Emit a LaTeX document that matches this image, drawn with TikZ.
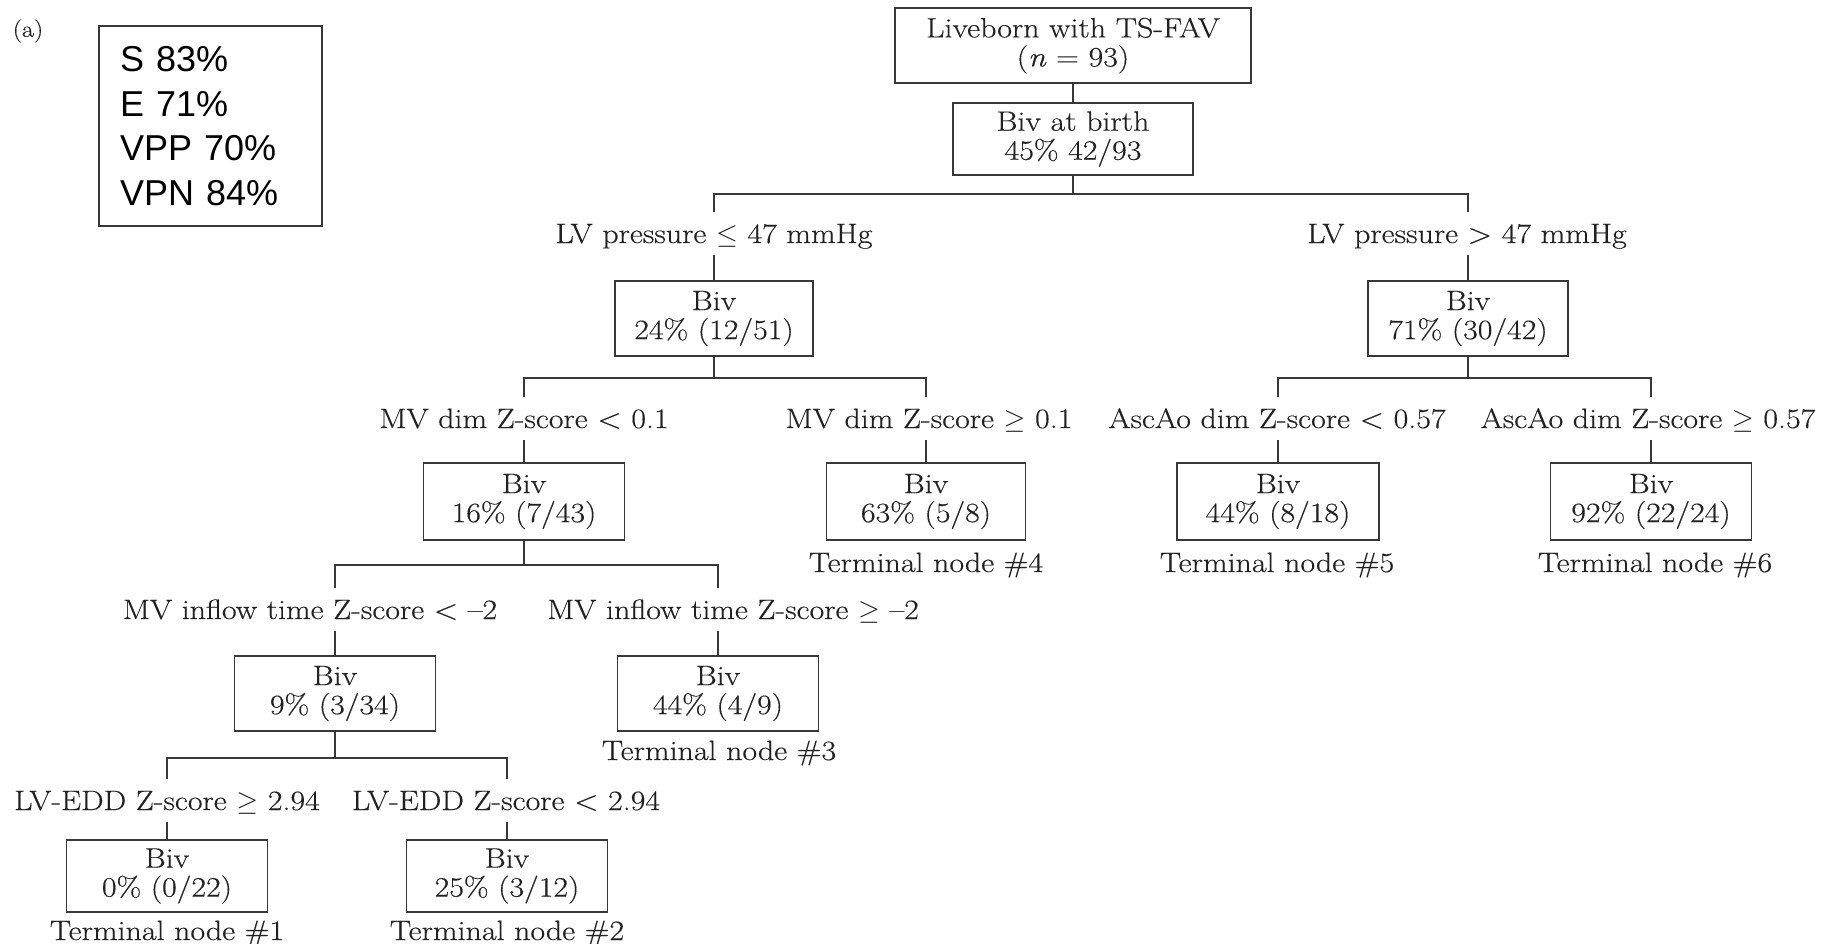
\RequirePackage{fix-cm}
\documentclass[tikz,border=0pt]{standalone}
\usepackage{fontspec}
\setmainfont{Latin Modern Roman}[FakeStretch=1.14, FakeBold=0.35]
\newfontfamily\statfont{Liberation Sans}
\definecolor{ink}{gray}{0.13}
\definecolor{rule}{gray}{0.22}
\begin{document}
\begin{tikzpicture}[x=1pt,y=-1pt,
  serif/.style={font=\fontsize{28}{29}\selectfont, text=ink},
  box/.style={serif, draw=rule, line width=1.5pt, align=center, inner sep=0pt,
    minimum width=201pt, minimum height=75pt},
  cond/.style={serif, anchor=base, inner xsep=2pt, inner ysep=9pt,
    text height=22pt, text depth=3pt},
  term/.style={serif, anchor=base, inner sep=2pt},
  link/.style={draw=rule, line width=1.5pt},
]
\useasboundingbox (0,0) rectangle (1829,943);

% panel tag and summary statistics
\node[font=\fontsize{23}{24}\selectfont, text=ink] (tag) at (28,31) {(a)};
\node[draw=rule, line width=1.5pt, minimum width=223pt, minimum height=200pt,
  inner xsep=21pt, text width=181pt, align=left, text=black,
  font=\statfont\fontsize{36}{44.5}\selectfont] (stats) at (210.5,126)
  {S 83\%\\E 71\%\\VPP 70\%\\VPN 84\%};

% root of the tree
\node[box, minimum width=356pt] (root) at (1073,45.5) {Liveborn with TS-FAV\\(\textit{n} = 93)};
\node[box, minimum width=240pt, minimum height=72pt] (birth) at (1073,139) {Biv at birth\\45\% 42/93};

% first split: LV pressure
\node[cond] (c1l) at (714,243) {LV pressure $\leq$ 47 mmHg};
\node[cond] (c1r) at (1467,243) {LV pressure > 47 mmHg};
\node[box, minimum width=198pt] (n24) at (714,318.5) {Biv\\24\% (12/51)};
\node[box, minimum width=200pt] (n71) at (1468,318.5) {Biv\\71\% (30/42)};

% second split: MV dimension / ascending aorta dimension
\node[cond] (c2a) at (524,428) {MV dim Z-score < 0.1};
\node[cond] (c2b) at (929,428) {MV dim Z-score $\geq$ 0.1};
\node[cond] (c2c) at (1277,428) {AscAo dim Z-score < 0.57};
\node[cond] (c2d) at (1648,428) {AscAo dim Z-score $\geq$ 0.57};
\node[box, minimum height=77pt] (n16) at (524,501.5) {Biv\\16\% (7/43)};
\node[box, minimum height=77pt, minimum width=199pt] (n63) at (926,501.5) {Biv\\63\% (5/8)};
\node[box, minimum height=77pt, minimum width=202pt] (n44a) at (1278,501.5) {Biv\\44\% (8/18)};
\node[box, minimum height=77pt] (n92) at (1651,501.5) {Biv\\92\% (22/24)};
\node[term] (t4) at (926,572) {Terminal node \#4};
\node[term] (t5) at (1277,572) {Terminal node \#5};
\node[term] (t6) at (1655,572) {Terminal node \#6};

% third split: MV inflow time
\node[cond] (c3a) at (310,619) {MV inflow time Z-score < --2};
\node[cond] (c3b) at (733,619) {MV inflow time Z-score $\geq$ --2};
\node[box] (n9) at (335,693.5) {Biv\\9\% (3/34)};
\node[box] (n44b) at (718,693.5) {Biv\\44\% (4/9)};
\node[term] (t3) at (719,760) {Terminal node \#3};

% fourth split: LV end-diastolic dimension
\node[cond] (c4a) at (167,810) {LV-EDD Z-score $\geq$ 2.94};
\node[cond] (c4b) at (506,810) {LV-EDD Z-score < 2.94};
\node[box, minimum height=72pt] (n0) at (167,876) {Biv\\0\% (0/22)};
\node[box, minimum height=72pt] (n25) at (507,876) {Biv\\25\% (3/12)};
\node[term] (t1) at (167,940) {Terminal node \#1};
\node[term] (t2) at (507,940) {Terminal node \#2};

% heights of the horizontal branch bars
\coordinate (b1) at (1073,194);
\coordinate (b2) at (714,378);
\coordinate (b3) at (524,565);
\coordinate (b4) at (335,758);
\coordinate (b2r) at (1468,378);

% connectors
\draw[link] (root.south) -- (birth.north);

\draw[link] (birth.south) -- (birth.south |- b1);
\draw[link] (n24.north |- c1l.north) -- (n24.north |- b1) -- (n71.north |- b1) -- (n71.north |- c1r.north);
\draw[link] (n24.north |- c1l.south) -- (n24.north);
\draw[link] (n71.north |- c1r.south) -- (n71.north);

\draw[link] (n24.south) -- (n24.south |- b2);
\draw[link] (n16.north |- c2a.north) -- (n16.north |- b2) -- (n63.north |- b2) -- (n63.north |- c2b.north);
\draw[link] (n16.north |- c2a.south) -- (n16.north);
\draw[link] (n63.north |- c2b.south) -- (n63.north);

\draw[link] (n71.south) -- (n71.south |- b2r);
\draw[link] (n44a.north |- c2c.north) -- (n44a.north |- b2r) -- (n92.north |- b2r) -- (n92.north |- c2d.north);
\draw[link] (n44a.north |- c2c.south) -- (n44a.north);
\draw[link] (n92.north |- c2d.south) -- (n92.north);

\draw[link] (n16.south) -- (n16.south |- b3);
\draw[link] (n9.north |- c3a.north) -- (n9.north |- b3) -- (n44b.north |- b3) -- (n44b.north |- c3b.north);
\draw[link] (n9.north |- c3a.south) -- (n9.north);
\draw[link] (n44b.north |- c3b.south) -- (n44b.north);

\draw[link] (n9.south) -- (n9.south |- b4);
\draw[link] (n0.north |- c4a.north) -- (n0.north |- b4) -- (n25.north |- b4) -- (n25.north |- c4b.north);
\draw[link] (n0.north |- c4a.south) -- (n0.north);
\draw[link] (n25.north |- c4b.south) -- (n25.north);
\end{tikzpicture}
\end{document}
